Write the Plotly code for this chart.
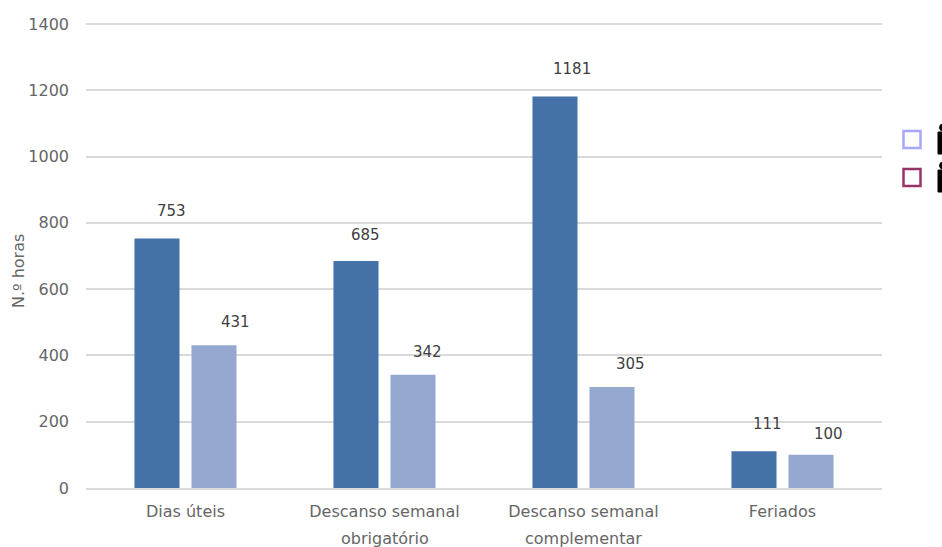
import plotly.graph_objects as go

categories = ["Dias úteis", "Descanso semanal obrigatório", "Descanso semanal complementar", "Feriados"]
tick_first_lines = ["Dias úteis", "Descanso semanal", "Descanso semanal", "Feriados"]
tick_second_lines = ["", "obrigatório", "complementar", ""]
men = [753, 685, 1181, 111]
women = [431, 342, 305, 100]
y_ticks = [0, 200, 400, 600, 800, 1000, 1200, 1400]
legend_colors = ["#A6A6FF", "#993366"]
bar_colors = ["#4472A8", "#95A9D0"]
grey = "#666666"
FONT = "DejaVu Sans"

# pixel helpers for the plot area in page pixels (left 86, right 882, top 22, bottom 488)
def px(v):
    return (v - 86) / 796
def py(v):
    return (488 - v) / 466

fig = go.Figure()
for vals, col in zip([men, women], bar_colors):
    fig.add_trace(go.Bar(x=categories, y=vals, marker=dict(color=col, line=dict(width=0)),
                         showlegend=False, hoverinfo="skip"))

men_shift = [(14, 27), (9, 26), (17, 28), (13, 27)]
women_shift = [(21, 23), (14, 23), (18, 23), (17, 21)]
for vals, shifts, off in [(men, men_shift, -28.5), (women, women_shift, 28.5)]:
    for c, v, (dx, dy) in zip(categories, vals, shifts):
        fig.add_annotation(x=c, y=v, text=str(v), showarrow=False, xshift=off + dx, yshift=dy,
                           font=dict(family=FONT, size=15, color="#404040"))

for c, line in zip(categories, tick_second_lines):
    if line:
        fig.add_annotation(x=c, yref="paper", y=py(538), yanchor="middle", text=line, showarrow=False,
                           font=dict(family=FONT, size=16, color=grey))

fig.add_annotation(xref="paper", yref="paper", x=px(18), y=py(271), xanchor="center", yanchor="middle",
                   text="N.º horas", textangle=-90, showarrow=False,
                   font=dict(family=FONT, size=16, color=grey))

# legend keys and the clipped pictograms at the right edge
for top, col in zip([131, 169], legend_colors):
    fig.add_shape(type="rect", xref="paper", yref="paper", x0=px(903.5), x1=px(920.5),
                  y0=py(top + 17), y1=py(top), line=dict(color=col, width=2.5),
                  fillcolor="rgba(0,0,0,0)")
for top in [124, 162]:
    fig.add_shape(type="rect", xref="paper", yref="paper", x0=px(938), x1=px(948),
                  y0=py(top + 30), y1=py(top + 8), fillcolor="black", line=dict(color="black", width=1))
    fig.add_shape(type="circle", xref="paper", yref="paper", x0=px(939.5), x1=px(947),
                  y0=py(top + 7), y1=py(top), fillcolor="black", line=dict(color="black", width=1))

fig.update_layout(
    width=942, height=547, autosize=False,
    margin=dict(l=86, r=60, t=22, b=59, autoexpand=False),
    paper_bgcolor="white", plot_bgcolor="white",
    barmode="group", bargap=0.427, bargroupgap=0.21, showlegend=False,
    font=dict(family=FONT, size=16, color=grey),
    xaxis=dict(showgrid=False, showline=True, linecolor="#D9D9D9", linewidth=2, ticks="",
               automargin=False, tickmode="array", tickvals=categories, ticktext=tick_first_lines,
               ticklabelstandoff=8, tickfont=dict(size=16, color=grey)),
    yaxis=dict(range=[0, 1406], tickvals=y_ticks, gridcolor="#D9D9D9", gridwidth=2,
               showline=False, zeroline=False, ticks="", automargin=False, ticklabelstandoff=16,
               tickfont=dict(size=16, color=grey)),
)
fig.write_html("out.html", config={"displayModeBar": False},
               post_script="document.body.style.margin='0';")
